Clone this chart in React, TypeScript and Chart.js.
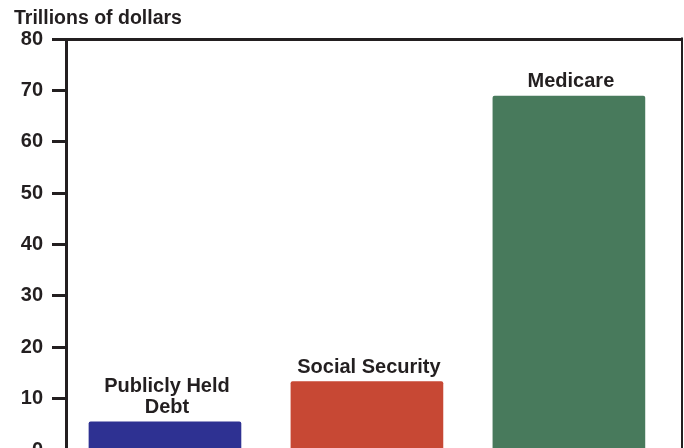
import React, { useEffect, useRef } from "react";
import { Chart, registerables } from "chart.js";

Chart.register(...registerables);

const categories: string[][] = [["Publicly Held", "Debt"], ["Social Security"], ["Medicare"]];
const values: number[] = [5.5, 13.3, 68.9];
const barColors: string[] = ["#2e3192", "#c74834", "#487a5c"];
const yTitle = "Trillions of dollars";
const yMin = 0;
const yMax = 80;
const yStep = 10;

const DARK = "#231f20";
const FONT = "'Liberation Sans', Arial, Helvetica, sans-serif";

const barLabelPlugin = {
  id: "barLabels",
  afterDatasetsDraw(chart: any) {
    const ctx = chart.ctx;
    const meta = chart.getDatasetMeta(0);
    ctx.save();
    ctx.font = `bold 20px ${FONT}`;
    ctx.fillStyle = DARK;
    ctx.textAlign = "center";
    ctx.textBaseline = "alphabetic";
    meta.data.forEach((bar: any, i: number) => {
      const lines = categories[i];
      lines.forEach((line, j) => {
        const y = bar.y - 9 - (lines.length - 1 - j) * 21;
        ctx.fillText(line, bar.x + 2, y);
      });
    });
    ctx.restore();
  },
};

const rightBorderPlugin = {
  id: "rightBorder",
  afterDraw(chart: any) {
    const { ctx, chartArea } = chart;
    ctx.save();
    ctx.strokeStyle = DARK;
    ctx.lineWidth = 2;
    ctx.beginPath();
    ctx.moveTo(chartArea.right, chartArea.top - 1.5);
    ctx.lineTo(chartArea.right, chartArea.bottom);
    ctx.stroke();
    ctx.restore();
  },
};

export default function App() {
  const ref = useRef<HTMLCanvasElement | null>(null);

  useEffect(() => {
    if (!ref.current) return;
    Chart.defaults.font.family = FONT;
    const chart = new Chart(ref.current, {
      type: "bar",
      data: {
        datasets: [
          {
            data: values.map((v, i) => ({ x: i, y: v })),
            backgroundColor: barColors,
            borderWidth: 0,
            borderRadius: 2,
            barThickness: 152,
          },
        ],
      },
      options: {
        animation: false,
        responsive: false,
        maintainAspectRatio: false,
        layout: { padding: { left: 14, right: 2, top: 0, bottom: 30 } },
        plugins: {
          legend: { display: false },
          tooltip: { enabled: false },
          title: {
            display: true,
            text: yTitle,
            align: "start",
            color: DARK,
            font: { family: FONT, size: 19.5, weight: "bold" },
            padding: { top: 7, bottom: 8.6 },
          },
        },
        scales: {
          x: {
            type: "linear",
            display: false,
            offset: false,
            min: -0.49,
            max: 2.56,
            grid: { offset: false },
          },
          y: {
            min: yMin,
            max: yMax,
            afterFit: (scale: any) => {
              scale.width = 52;
            },
            ticks: {
              stepSize: yStep,
              color: DARK,
              padding: 9,
              font: { family: FONT, size: 20, weight: "bold" },
            },
            grid: {
              drawOnChartArea: true,
              drawTicks: true,
              tickLength: 14,
              lineWidth: 3,
              tickWidth: 3,
              tickColor: DARK,
              color: (ctx: any) => (ctx.tick && ctx.tick.value === yMax ? DARK : "rgba(0,0,0,0)"),
            },
            border: { display: true, width: 3, color: DARK },
          },
        },
      },
      plugins: [barLabelPlugin, rightBorderPlugin],
    } as any);
    return () => chart.destroy();
  }, []);

  return (
    <div style={{ position: "absolute", left: 0, top: 0, width: 684, height: 480, background: "#fff" }}>
      <canvas ref={ref} width={684} height={480} style={{ width: 684, height: 480 }} />
    </div>
  );
}
